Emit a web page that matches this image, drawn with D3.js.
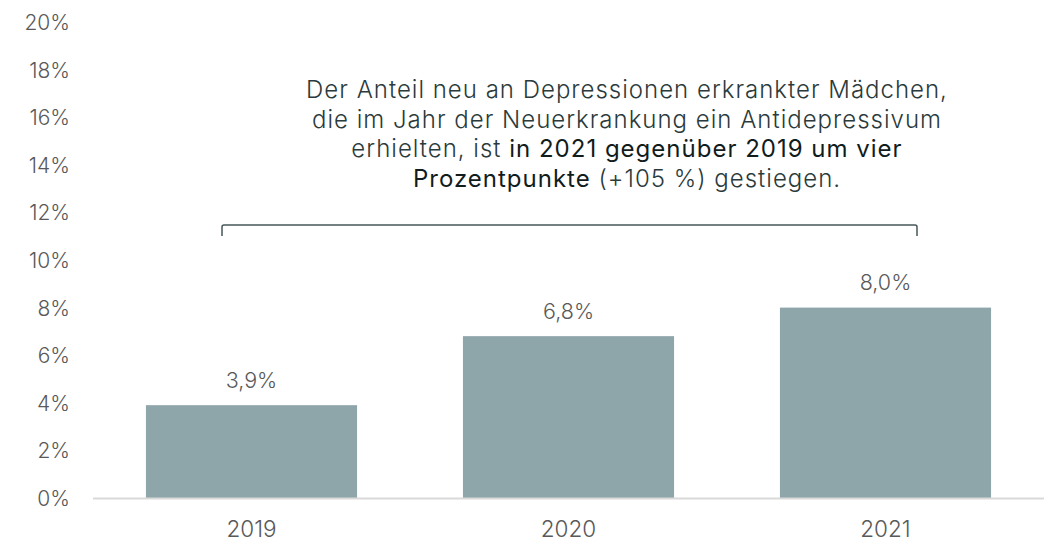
<!DOCTYPE html>
<html>
<head>
<meta charset="utf-8">
<script src="https://cdn.jsdelivr.net/npm/d3@7"></script>
<style>
  body { margin: 0; background: #fff; }
  text { font-family: Inter, "Open Sans", sans-serif; }
</style>
</head>
<body>
<script>
// data
var years = ["2019", "2020", "2021"];
var shares = [3.9, 6.8, 8.0];
var valueLabels = ["3,9%", "6,8%", "8,0%"];
var yTicks = [0, 2, 4, 6, 8, 10, 12, 14, 16, 18, 20];

var w = 1049;
var h = 542;

var svg = d3.select("body")
  .append("svg")
  .attr("width", w)
  .attr("height", h);

var x = d3.scaleBand()
  .domain(years)
  .range([93, 1044])
  .paddingInner(0.334)
  .paddingOuter(0.167);

var y = d3.scaleLinear()
  .domain([0, 20])
  .range([498, 22]);

// y axis labels
var yAxis = d3.axisLeft(y)
  .tickValues(yTicks)
  .tickSize(0)
  .tickPadding(0)
  .tickFormat(function(d) { return d + "%"; });

svg.append("g")
  .attr("transform", "translate(70,0)")
  .call(yAxis)
  .call(function(g) { g.select(".domain").remove(); })
  .selectAll("text")
  .attr("font-size", 21)
  .attr("font-weight", 300)
  .attr("fill", "#595959")
  .attr("dy", "0.36em");

// bars
svg.selectAll("rect.bar")
  .data(shares)
  .enter()
  .append("rect")
  .attr("class", "bar")
  .attr("x", function(d, i) { return x(years[i]); })
  .attr("y", function(d) { return y(d); })
  .attr("width", x.bandwidth())
  .attr("height", function(d) { return y(0) - y(d); })
  .attr("fill", "#8ea5aa");

// baseline
svg.append("line")
  .attr("x1", x.range()[0])
  .attr("x2", x.range()[1])
  .attr("y1", y(0) + 0.5)
  .attr("y2", y(0) + 0.5)
  .attr("stroke", "#d9d9d9")
  .attr("stroke-width", 2);

// value labels
svg.selectAll("text.val")
  .data(shares)
  .enter()
  .append("text")
  .attr("class", "val")
  .attr("x", function(d, i) { return x(years[i]) + x.bandwidth() / 2; })
  .attr("y", function(d) { return y(d) - 25; })
  .attr("dy", "0.36em")
  .attr("text-anchor", "middle")
  .attr("font-size", 21.5)
  .attr("font-weight", 300)
  .attr("fill", "#595959")
  .text(function(d, i) { return valueLabels[i]; });

// x axis labels
var xAxis = d3.axisBottom(x).tickSize(0).tickPadding(0);
svg.append("g")
  .attr("transform", "translate(0," + 529 + ")")
  .call(xAxis)
  .call(function(g) { g.select(".domain").remove(); })
  .selectAll("text")
  .attr("font-size", 22.5)
  .attr("font-weight", 300)
  .attr("fill", "#595959")
  .attr("dy", "0.36em");

// bracket
var bx1 = 222, bx2 = 917, by = 225;
svg.append("path")
  .attr("d", "M" + bx1 + "," + (by + 11) + " V" + (by + 2) + " Q" + bx1 + "," + by + " " + (bx1 + 2) + "," + by +
             " H" + (bx2 - 2) + " Q" + bx2 + "," + by + " " + bx2 + "," + (by + 2) + " V" + (by + 11))
  .attr("fill", "none")
  .attr("stroke", "#46585a")
  .attr("stroke-width", 1.5);

// annotation
var lines = [
  [["Der Anteil neu an Depressionen erkrankter Mädchen,", false]],
  [["die im Jahr der Neuerkrankung ein Antidepressivum", false]],
  [["erhielten, ist ", false], ["in 2021 gegenüber 2019 um vier", true]],
  [["Prozentpunkte", true], [" (+105 %) gestiegen.", false]]
];

var note = svg.append("text")
  .attr("text-anchor", "middle")
  .attr("font-size", 24)
  .attr("letter-spacing", 1.0)
  .attr("fill", "#2b3a3b");

lines.forEach(function(parts, i) {
  parts.forEach(function(p, j) {
    var t = note.append("tspan").text(p[0])
      .attr("font-weight", p[1] ? 400 : 300)
      .attr("fill", p[1] ? "#111c1c" : "#2b3a3b");
    if (j === 0) t.attr("x", 627).attr("y", 98 + i * 29.7);
  });
});
</script>
</body>
</html>
